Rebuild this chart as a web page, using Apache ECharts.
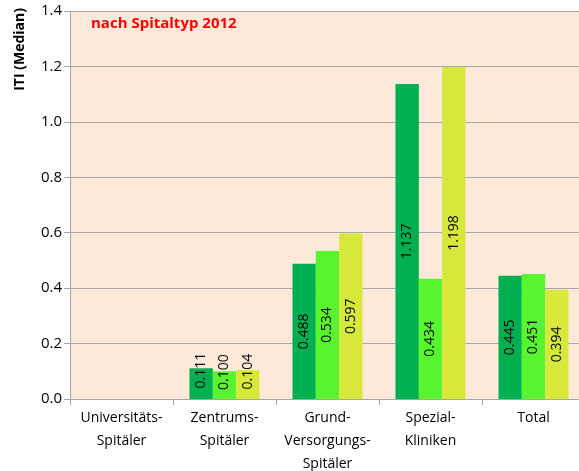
<!DOCTYPE html>
<html>
<head>
<meta charset="utf-8">
<script src="https://cdn.jsdelivr.net/npm/echarts@6/dist/echarts.min.js"></script>
<style>
  html, body { margin: 0; padding: 0; background: #fff; }
  #chart { width: 579px; height: 471px; }
</style>
</head>
<body>
<div id="chart"></div>
<script>
// categories and values
const categories = ['Universitäts-\nSpitäler', 'Zentrums-\nSpitäler', 'Grund-\nVersorgungs-\nSpitäler', 'Spezial-\nKliniken', 'Total'];
const seriesA = [null, 0.111, 0.488, 1.137, 0.445];
const seriesB = [null, 0.100, 0.534, 0.434, 0.451];
const seriesC = [null, 0.104, 0.597, 1.198, 0.394];
const colors = ['#00B050', '#58F52E', '#D8E83A'];
const titleText = 'nach Spitaltyp 2012';
const yName = 'ITI (Median)';

const font = '"Open Sans", "Liberation Sans", sans-serif';

const makeSeries = (values, color) => ({
  type: 'bar',
  data: values.map(v => ({
    value: v,
    // short bars: lift label a bit, as in the original (offset is in the rotated frame)
    label: v !== null && v < 0.2 ? { offset: [13, 0] } : undefined
  })),
  itemStyle: { color },
  barGap: '0%',
  barCategoryGap: '32%',
  label: {
    show: true,
    position: 'inside',
    rotate: 90,
    color: '#000',
    fontFamily: font,
    fontSize: 14,
    formatter: p => p.value.toFixed(3)
  }
});

const chart = echarts.init(document.getElementById('chart'));
chart.setOption({
  backgroundColor: '#fff',
  animation: false,
  title: {
    text: titleText,
    left: 86, top: 11,
    textStyle: { color: '#FF0000', fontFamily: font, fontSize: 15, fontWeight: 'bold' }
  },
  graphic: [{
    type: 'text',
    left: 13, top: 8,
    rotation: Math.PI / 2,
    style: { text: yName, fill: '#000', font: 'bold 14px ' + font }
  }],
  grid: {
    left: 70, top: 11, width: 515, bottom: 72,
    outerBoundsMode: 'none',
    backgroundColor: '#FDE9DA', show: true, borderWidth: 0
  },
  xAxis: {
    type: 'category',
    data: categories,
    axisLine: { lineStyle: { color: '#A6A6A6' } },
    axisTick: { show: true, length: 6, lineStyle: { color: '#A6A6A6' } },
    axisLabel: { color: '#000', fontFamily: font, fontSize: 14, lineHeight: 23, margin: 8, interval: 0 }
  },
  yAxis: {
    type: 'value',
    min: 0, max: 1.4, interval: 0.2,
    axisLine: { show: true, lineStyle: { color: '#A6A6A6' } },
    axisTick: { show: true, length: 6, lineStyle: { color: '#A6A6A6' } },
    axisLabel: { color: '#000', fontFamily: font, fontSize: 15, margin: 8, formatter: v => v.toFixed(1) },
    splitLine: { lineStyle: { color: '#A6A6A6' } }
  },
  series: [makeSeries(seriesA, colors[0]), makeSeries(seriesB, colors[1]), makeSeries(seriesC, colors[2])]
});
</script>
</body>
</html>
